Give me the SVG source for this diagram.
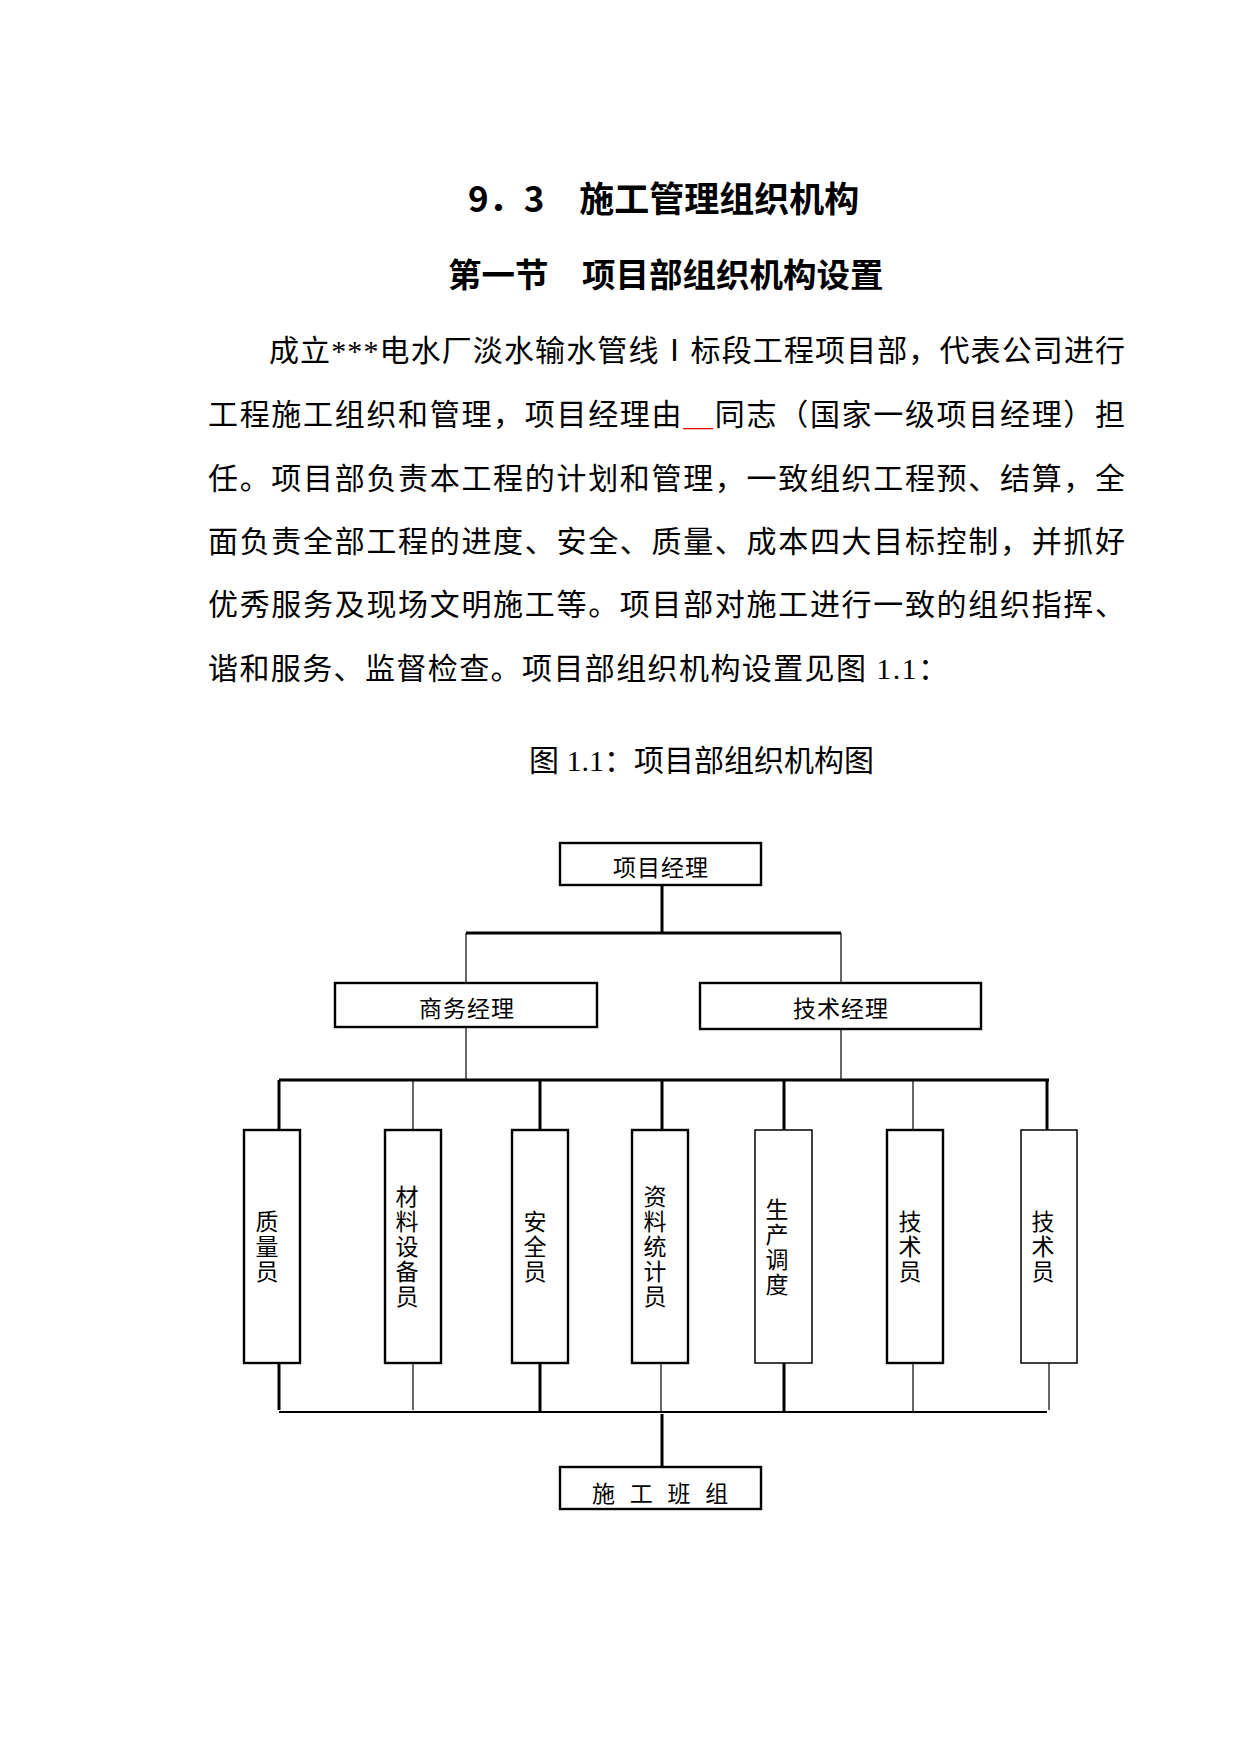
<svg xmlns="http://www.w3.org/2000/svg" width="1241" height="1754" viewBox="0 0 1241 1754">
<style>
  .bg { fill: #ffffff; }
  .h { font-family: "Noto Sans CJK SC", sans-serif; font-weight: bold; fill: #000; }
  .body { font-family: "Liberation Serif", "Noto Sans CJK SC", serif; font-size: 30px; fill: #000; }
  .red { fill: #e00000; }
  .box { fill: #ffffff; stroke: #000; stroke-width: 2.4; }
  .box.lt { stroke-width: 1.5; }
  .lbl { font-family: "Noto Sans CJK SC", sans-serif; font-size: 23px; fill: #000; text-anchor: middle; }
  .thick { stroke: #000; stroke-width: 3; fill: none; }
  .mid { stroke: #000; stroke-width: 2; fill: none; }
  .thin { stroke: #000; stroke-width: 1.2; fill: none; }
</style>
<rect class="bg" x="0" y="0" width="1241" height="1754"/>

<!-- headings -->
<text class="h" x="468" y="212" font-size="35">9．3　施工管理组织机构</text>
<text class="h" x="448" y="287" font-size="33.5">第一节　项目部组织机构设置</text>

<!-- paragraph -->
<text class="body" x="269" y="361" textLength="856" lengthAdjust="spacing">成立***电水厂淡水输水管线Ⅰ标段工程项目部，代表公司进行</text>
<text class="body" x="208" y="425" textLength="917" lengthAdjust="spacing">工程施工组织和管理，项目经理由<tspan class="red">＿</tspan>同志（国家一级项目经理）担</text>
<text class="body" x="208" y="489" textLength="917" lengthAdjust="spacing">任。项目部负责本工程的计划和管理，一致组织工程预、结算，全</text>
<text class="body" x="208" y="552" textLength="917" lengthAdjust="spacing">面负责全部工程的进度、安全、质量、成本四大目标控制，并抓好</text>
<text class="body" x="208" y="615" textLength="917" lengthAdjust="spacing">优秀服务及现场文明施工等。项目部对施工进行一致的组织指挥、</text>
<text class="body" x="208" y="679" letter-spacing="1.4">谐和服务、监督检查。项目部组织机构设置见图 1.1：</text>

<!-- caption -->
<text class="body" x="529" y="771" font-size="29">图 1.1：项目部组织机构图</text>

<!-- connectors -->
<g id="connectors">
  <line class="thick" x1="662" y1="885" x2="662" y2="933"/>
  <line class="thick" x1="466" y1="933" x2="841" y2="933"/>
  <line class="thin" x1="466" y1="933" x2="466" y2="983"/>
  <line class="thin" x1="841" y1="933" x2="841" y2="983"/>
  <line class="thin" x1="466" y1="1027" x2="466" y2="1080"/>
  <line class="thin" x1="841" y1="1029" x2="841" y2="1080"/>
  <line class="thick" x1="279" y1="1080" x2="1049" y2="1080"/>
  <line class="thick" x1="279" y1="1080" x2="279" y2="1130"/>
  <line class="thin" x1="413" y1="1080" x2="413" y2="1130"/>
  <line class="thick" x1="540" y1="1080" x2="540" y2="1130"/>
  <line class="thick" x1="662" y1="1080" x2="662" y2="1130"/>
  <line class="thick" x1="784" y1="1080" x2="784" y2="1130"/>
  <line class="thin" x1="913" y1="1080" x2="913" y2="1130"/>
  <line class="thick" x1="1047" y1="1080" x2="1047" y2="1130"/>
  <line class="thick" x1="279" y1="1361" x2="279" y2="1410"/>
  <line class="thin" x1="413" y1="1361" x2="413" y2="1410"/>
  <line class="thick" x1="540" y1="1363" x2="540" y2="1412"/>
  <line class="thin" x1="661" y1="1363" x2="661" y2="1412"/>
  <line class="thick" x1="784" y1="1363" x2="784" y2="1411"/>
  <line class="thin" x1="913" y1="1363" x2="913" y2="1412"/>
  <line class="thin" x1="1049" y1="1363" x2="1049" y2="1410"/>
  <line class="mid" x1="279" y1="1412" x2="1047" y2="1412"/>
  <line class="thick" x1="662" y1="1414" x2="662" y2="1467"/>
</g>

<!-- nodes -->
<g id="node-pm">
  <rect class="box" x="560" y="843" width="201" height="42"/>
  <text class="lbl" x="661" y="876" letter-spacing="1">项目经理</text>
</g>
<g id="node-business">
  <rect class="box" x="335" y="983" width="262" height="44"/>
  <text class="lbl" x="467" y="1017" letter-spacing="1">商务经理</text>
</g>
<g id="node-tech">
  <rect class="box" x="700" y="983" width="281" height="46"/>
  <text class="lbl" x="841" y="1017" letter-spacing="1">技术经理</text>
</g>

<g id="node-quality">
  <rect class="box" x="244" y="1130" width="56" height="233"/>
  <text class="lbl"><tspan x="267" y="1230">质</tspan><tspan x="267" y="1255">量</tspan><tspan x="267" y="1280">员</tspan></text>
</g>
<g id="node-material">
  <rect class="box" x="385" y="1130" width="56" height="233"/>
  <text class="lbl"><tspan x="407" y="1205">材</tspan><tspan x="407" y="1230">料</tspan><tspan x="407" y="1255">设</tspan><tspan x="407" y="1280">备</tspan><tspan x="407" y="1305">员</tspan></text>
</g>
<g id="node-safety">
  <rect class="box" x="512" y="1130" width="56" height="233"/>
  <text class="lbl"><tspan x="535" y="1230">安</tspan><tspan x="535" y="1255">全</tspan><tspan x="535" y="1280">员</tspan></text>
</g>
<g id="node-records">
  <rect class="box" x="632" y="1130" width="56" height="233"/>
  <text class="lbl"><tspan x="655" y="1205">资</tspan><tspan x="655" y="1230">料</tspan><tspan x="655" y="1255">统</tspan><tspan x="655" y="1280">计</tspan><tspan x="655" y="1305">员</tspan></text>
</g>
<g id="node-dispatch">
  <rect class="box lt" x="755" y="1130" width="57" height="233"/>
  <text class="lbl"><tspan x="777" y="1218">生</tspan><tspan x="777" y="1243">产</tspan><tspan x="777" y="1268">调</tspan><tspan x="777" y="1293">度</tspan></text>
</g>
<g id="node-tech1">
  <rect class="box" x="887" y="1130" width="56" height="233"/>
  <text class="lbl"><tspan x="910" y="1230">技</tspan><tspan x="910" y="1255">术</tspan><tspan x="910" y="1280">员</tspan></text>
</g>
<g id="node-tech2">
  <rect class="box lt" x="1021" y="1130" width="56" height="233"/>
  <text class="lbl"><tspan x="1043" y="1230">技</tspan><tspan x="1043" y="1255">术</tspan><tspan x="1043" y="1280">员</tspan></text>
</g>

<g id="node-team">
  <rect class="box" x="560" y="1467" width="201" height="42"/>
  <text class="lbl" x="592" y="1502" style="text-anchor: start" letter-spacing="4.8" xml:space="preserve">施 工 班 组</text>
</g>
</svg>
